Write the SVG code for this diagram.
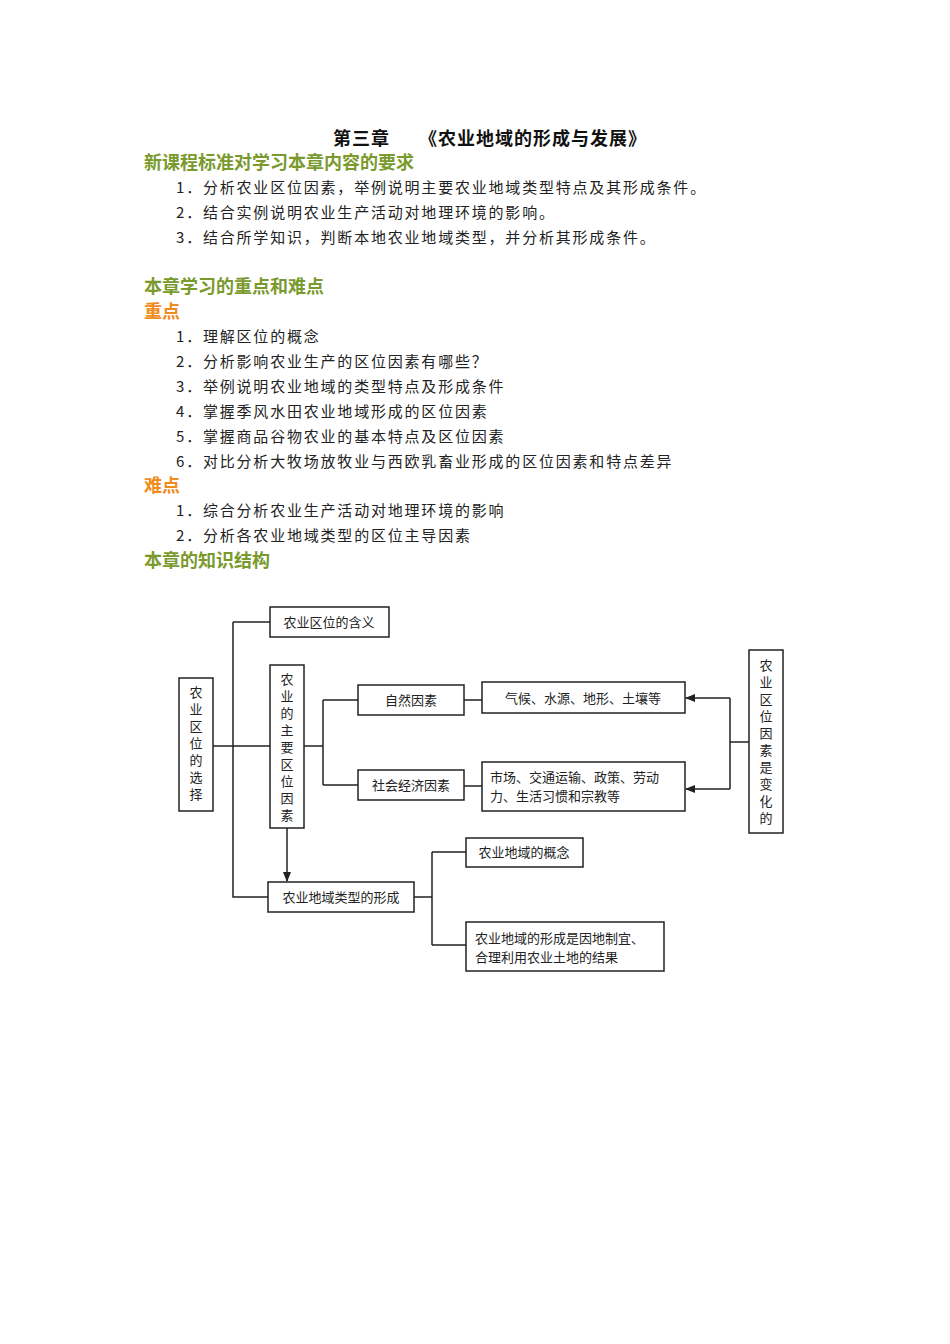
<svg xmlns="http://www.w3.org/2000/svg" width="950" height="1344" viewBox="0 0 950 1344">
<style>
.t{font-family:"Noto Sans CJK SC","Liberation Serif",serif;font-size:15px;fill:#222;letter-spacing:1.8px}
.h{font-family:"Noto Sans CJK SC",sans-serif;font-size:18px;font-weight:bold}
.g{fill:#7a9a2e}.o{fill:#f08c1e}
.b rect{fill:#fff;stroke:#222;stroke-width:1.5}
.b text{font-family:"Noto Sans CJK SC",serif;font-size:13px;fill:#222}
.c{stroke:#222;stroke-width:1.5;fill:none}
</style>
<defs><marker id="a" viewBox="0 0 10 10" refX="9" refY="5" markerWidth="7" markerHeight="7" orient="auto"><path d="M0,1L10,5L0,9z" fill="#222"/></marker></defs>
<rect width="950" height="1344" fill="#fff"/>
<text x="333" y="145" class="h" fill="#111" style="letter-spacing:1px">第三章　　《农业地域的形成与发展》</text>
<text x="144" y="169" class="h g">新课程标准对学习本章内容的要求</text>
<text x="176" y="193" class="t">1．分析农业区位因素，举例说明主要农业地域类型特点及其形成条件。</text>
<text x="176" y="218" class="t">2．结合实例说明农业生产活动对地理环境的影响。</text>
<text x="176" y="243" class="t">3．结合所学知识，判断本地农业地域类型，并分析其形成条件。</text>
<text x="144" y="293" class="h g">本章学习的重点和难点</text>
<text x="144" y="318" class="h o">重点</text>
<text x="176" y="342" class="t">1．理解区位的概念</text>
<text x="176" y="367" class="t">2．分析影响农业生产的区位因素有哪些？</text>
<text x="176" y="392" class="t">3．举例说明农业地域的类型特点及形成条件</text>
<text x="176" y="417" class="t">4．掌握季风水田农业地域形成的区位因素</text>
<text x="176" y="442" class="t">5．掌握商品谷物农业的基本特点及区位因素</text>
<text x="176" y="467" class="t">6．对比分析大牧场放牧业与西欧乳畜业形成的区位因素和特点差异</text>
<text x="144" y="492" class="h o">难点</text>
<text x="176" y="516" class="t">1．综合分析农业生产活动对地理环境的影响</text>
<text x="176" y="541" class="t">2．分析各农业地域类型的区位主导因素</text>
<text x="144" y="567" class="h g">本章的知识结构</text>
<g id="connectors">
<path class="c" d="M213,746H270M233,622V897H268M233,622H270M304,746H323M323,700V785M323,700H358M323,785H358M464,700H482M464,786H482"/>
<path class="c" d="M749,742H730M730,698V789" />
<path class="c" d="M730,698H686" marker-end="url(#a)"/>
<path class="c" d="M730,789H686" marker-end="url(#a)"/>
<path class="c" d="M287,828V881" marker-end="url(#a)"/>
<path class="c" d="M414,897H432M432,852V945M432,852H466M432,945H466"/>
</g>
<g class="b">
<g id="n1"><rect x="179" y="678" width="34" height="133"/><text text-anchor="middle"><tspan x="196" y="697">农</tspan><tspan x="196" y="714">业</tspan><tspan x="196" y="731">区</tspan><tspan x="196" y="748">位</tspan><tspan x="196" y="765">的</tspan><tspan x="196" y="782">选</tspan><tspan x="196" y="799">择</tspan></text></g>
<g id="n2"><rect x="270" y="607" width="119" height="30"/><text x="329" y="627" text-anchor="middle">农业区位的含义</text></g>
<g id="n3"><rect x="270" y="665" width="34" height="163"/><text text-anchor="middle"><tspan x="287" y="684">农</tspan><tspan x="287" y="701">业</tspan><tspan x="287" y="718">的</tspan><tspan x="287" y="735">主</tspan><tspan x="287" y="752">要</tspan><tspan x="287" y="769">区</tspan><tspan x="287" y="786">位</tspan><tspan x="287" y="803">因</tspan><tspan x="287" y="820">素</tspan></text></g>
<g id="n4"><rect x="358" y="685" width="106" height="30"/><text x="411" y="705" text-anchor="middle">自然因素</text></g>
<g id="n5"><rect x="482" y="682" width="203" height="31"/><text x="583" y="703" text-anchor="middle">气候、水源、地形、土壤等</text></g>
<g id="n6"><rect x="358" y="770" width="106" height="30"/><text x="411" y="790" text-anchor="middle">社会经济因素</text></g>
<g id="n7"><rect x="482" y="762" width="203" height="49"/><text><tspan x="490" y="782">市场、交通运输、政策、劳动</tspan><tspan x="490" y="801">力、生活习惯和宗教等</tspan></text></g>
<g id="n8"><rect x="749" y="650" width="34" height="183"/><text text-anchor="middle"><tspan x="766" y="670">农</tspan><tspan x="766" y="687">业</tspan><tspan x="766" y="704">区</tspan><tspan x="766" y="721">位</tspan><tspan x="766" y="738">因</tspan><tspan x="766" y="755">素</tspan><tspan x="766" y="772">是</tspan><tspan x="766" y="789">变</tspan><tspan x="766" y="806">化</tspan><tspan x="766" y="823">的</tspan></text></g>
<g id="n9"><rect x="268" y="882" width="146" height="30"/><text x="341" y="902" text-anchor="middle">农业地域类型的形成</text></g>
<g id="n10"><rect x="466" y="838" width="117" height="29"/><text x="524" y="857" text-anchor="middle">农业地域的概念</text></g>
<g id="n11"><rect x="466" y="922" width="198" height="49"/><text><tspan x="475" y="943">农业地域的形成是因地制宜、</tspan><tspan x="475" y="962">合理利用农业土地的结果</tspan></text></g>
</g>
</svg>
